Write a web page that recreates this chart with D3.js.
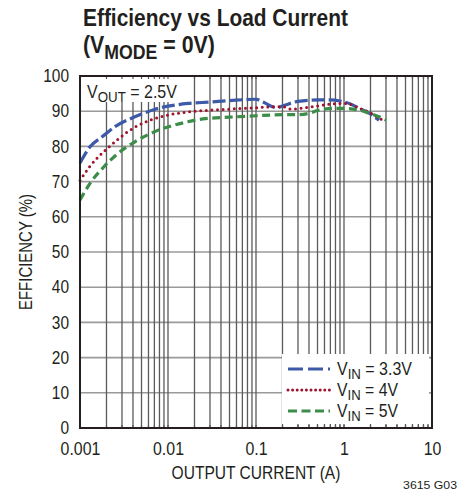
<!DOCTYPE html>
<html>
<head>
<meta charset="utf-8">
<script src="https://cdn.jsdelivr.net/npm/d3@7"></script>
<style>
  body { margin: 0; background: #fff; }
  text { font-family: "Liberation Sans", Arial, sans-serif; fill: #231f20; }
</style>
</head>
<body>
<div id="chart"></div>
<script>
const dimensions = { width: 466, height: 497 };
const margin = { top: 76, right: 34, bottom: 69, left: 80 };
const graphWidth = dimensions.width - margin.left - margin.right;
const graphHeight = dimensions.height - margin.top - margin.bottom;

// data
const blueCurrent = [0.001, 0.0013, 0.0018, 0.0025, 0.0042, 0.007, 0.017, 0.03, 0.05, 0.1, 0.12, 0.17, 0.2, 0.3, 0.5, 0.7, 0.9, 1.2, 1.5, 2, 2.5];
const blueEff = [75.3, 79.9, 82.8, 85.6, 88.4, 90.5, 92.2, 92.6, 93.0, 93.4, 92.6, 91.0, 91.5, 92.8, 93.2, 93.2, 92.9, 92.0, 90.8, 89.2, 87.4];

const redCurrent = [0.001, 0.0013, 0.002, 0.0027, 0.0035, 0.0059, 0.01, 0.017, 0.03, 0.05, 0.1, 0.2, 0.25, 0.32, 0.45, 0.7, 1.05, 1.5, 2, 2.5, 3];
const redEff = [70.3, 74.4, 79.2, 82.0, 84.2, 87.2, 88.9, 89.8, 90.3, 90.6, 91.0, 91.3, 90.6, 90.8, 91.3, 92.0, 92.2, 90.8, 89.5, 88.0, 87.0];

const greenCurrent = [0.001, 0.0013, 0.0019, 0.0027, 0.0042, 0.0071, 0.0168, 0.025, 0.05, 0.1, 0.2, 0.3, 0.4, 0.5, 0.8, 1.0, 1.5, 2, 2.5, 3];
const greenEff = [64.8, 69.5, 74.4, 78.0, 81.3, 84.2, 87.0, 87.8, 88.3, 88.7, 89.0, 89.0, 89.4, 90.2, 90.8, 90.8, 90.3, 89.3, 88.4, 87.5];

const yTicks = [0, 10, 20, 30, 40, 50, 60, 70, 80, 90, 100];
const xTickLabels = ['0.001', '0.01', '0.1', '1', '10'];

const series = [
    { name: '3.3V', current: blueCurrent, eff: blueEff, color: '#3d5aa8', dash: '13,4', cap: 'butt', width: 3.2, legendDash: '15,5', fit: 75 },
    { name: '4V', current: redCurrent, eff: redEff, color: '#a0122d', dash: '0,5.6', cap: 'round', width: 3, legendDash: '0,4.6', fit: 61 },
    { name: '5V', current: greenCurrent, eff: greenEff, color: '#3b8d48', dash: '8,4.5', cap: 'butt', width: 3.2, legendDash: '9,4.5', fit: 61 }
];

// narrow a text horizontally around its anchor point (condensed look)
const squeeze = (sel, k) => {
    sel.each(function() {
        const t = d3.select(this);
        const x0 = +t.attr('x') || 0;
        const y0 = +t.attr('y') || 0;
        t.attr('x', 0).attr('y', 0)
            .attr('transform', `translate(${x0},${y0}) scale(${k},1)`);
    });
};
const fitWidth = (sel, target) => {
    const w = sel.node().getComputedTextLength();
    squeeze(sel, target / w);
};

const svg = d3.select('#chart')
    .append('svg')
    .attr('width', dimensions.width)
    .attr('height', dimensions.height);

const graph = svg.append('g')
    .attr('transform', `translate(${margin.left}, ${margin.top})`);

// scales
const x = d3.scaleLog().domain([0.001, 10]).range([0, graphWidth]);
const y = d3.scaleLinear().domain([0, 100]).range([graphHeight, 0]);

// minor positions on the log axis
const xGrid = [];
for (let e = -3; e < 1; e++) {
    for (let m = 1; m <= 9; m++) xGrid.push(m * Math.pow(10, e));
}
xGrid.push(10);

// grid
graph.append('g').selectAll('line')
    .data(yTicks)
    .enter().append('line')
        .attr('x1', 0).attr('x2', graphWidth)
        .attr('y1', d => y(d)).attr('y2', d => y(d))
        .attr('stroke', '#9a9a9a').attr('stroke-width', 1.6);

graph.append('g').selectAll('line')
    .data(xGrid)
    .enter().append('line')
        .attr('x1', d => x(d)).attr('x2', d => x(d))
        .attr('y1', 0).attr('y2', graphHeight)
        .attr('stroke', '#5a5a5a').attr('stroke-width', 1.3);

// white boxes for label and legend
graph.append('rect')
    .attr('x', 1).attr('y', 1).attr('width', 96).attr('height', 25)
    .attr('fill', '#fff');
graph.append('rect')
    .attr('x', 202).attr('y', 278).attr('width', 147).attr('height', 70)
    .attr('fill', '#fff');

// small inside ticks along the frame
const tickLen = 3;
graph.append('g').selectAll('line')
    .data(xGrid)
    .enter().append('line')
        .attr('x1', d => x(d)).attr('x2', d => x(d))
        .attr('y1', graphHeight).attr('y2', graphHeight - tickLen)
        .attr('stroke', '#5a5a5a').attr('stroke-width', 1.2);
graph.append('g').selectAll('line')
    .data(xGrid)
    .enter().append('line')
        .attr('x1', d => x(d)).attr('x2', d => x(d))
        .attr('y1', 0).attr('y2', tickLen)
        .attr('stroke', '#5a5a5a').attr('stroke-width', 1.2);
graph.append('g').selectAll('line')
    .data(yTicks)
    .enter().append('line')
        .attr('x1', graphWidth).attr('x2', graphWidth - tickLen)
        .attr('y1', d => y(d)).attr('y2', d => y(d))
        .attr('stroke', '#9a9a9a').attr('stroke-width', 1.4);

// curves
const line = d3.line()
    .x(d => x(d[0]))
    .y(d => y(d[1]))
    .curve(d3.curveMonotoneX);

series.forEach(s => {
    graph.append('path')
        .datum(s.current.map((c, i) => [c, s.eff[i]]))
        .attr('d', line)
        .attr('fill', 'none')
        .attr('stroke', s.color)
        .attr('stroke-width', s.width)
        .attr('stroke-linecap', s.cap)
        .attr('stroke-dasharray', s.dash);
});

// frame
graph.append('rect')
    .attr('width', graphWidth).attr('height', graphHeight)
    .attr('fill', 'none').attr('stroke', '#231f20').attr('stroke-width', 2);

// axes labels via axis generators
const yAxis = d3.axisLeft(y).tickValues(yTicks).tickSize(0).tickPadding(11);
const yAxisGroup = graph.append('g').call(yAxis);
yAxisGroup.select('.domain').remove();
yAxisGroup.selectAll('text')
    .style('font-size', '18px')
    .style('font-family', '"Liberation Sans", Arial, sans-serif')
    .attr('fill', '#231f20')
    .call(squeeze, 0.86);

const xAxis = d3.axisBottom(x)
    .tickValues([0.001, 0.01, 0.1, 1, 10])
    .tickFormat((d, i) => xTickLabels[i])
    .tickSize(0).tickPadding(14);
const xAxisGroup = graph.append('g')
    .attr('transform', `translate(0, ${graphHeight})`)
    .call(xAxis);
xAxisGroup.select('.domain').remove();
xAxisGroup.selectAll('text')
    .style('font-size', '18.5px')
    .style('font-family', '"Liberation Sans", Arial, sans-serif')
    .attr('fill', '#231f20')
    .call(squeeze, 0.86);

// axis titles
svg.append('text')
    .attr('x', margin.left + graphWidth / 2)
    .attr('y', 479)
    .attr('text-anchor', 'middle')
    .style('font-size', '18.5px')
    .text('OUTPUT CURRENT (A)')
    .call(fitWidth, 169);

svg.append('text')
    .attr('transform', `translate(32, ${margin.top + graphHeight / 2}) rotate(-90)`)
    .attr('text-anchor', 'middle')
    .style('font-size', '18px')
    .attr('textLength', 116)
    .attr('lengthAdjust', 'spacingAndGlyphs')
    .text('EFFICIENCY (%)');

// title
const title = svg.append('text')
    .attr('x', 83).attr('y', 26)
    .style('font-size', '23.5px').style('font-weight', 'bold')
    .text('Efficiency vs Load Current')
    .call(fitWidth, 265);
const title2 = svg.append('text')
    .attr('x', 83).attr('y', 53)
    .style('font-size', '23.5px').style('font-weight', 'bold');
title2.append('tspan').text('(V');
title2.append('tspan').attr('dy', 6).style('font-size', '19.5px').text('MODE');
title2.append('tspan').attr('dy', -6).text(' = 0V)');
title2.call(fitWidth, 132);

// VOUT label
const vout = graph.append('text')
    .attr('x', 7).attr('y', 22)
    .style('font-size', '18px');
vout.append('tspan').text('V');
vout.append('tspan').attr('dy', 4).style('font-size', '15px').text('OUT');
vout.append('tspan').attr('dy', -4).text(' = 2.5V');
vout.call(fitWidth, 90);

// legend
const legend = graph.append('g')
    .attr('transform', `translate(208, 293)`);
series.forEach((s, i) => {
    const row = legend.append('g').attr('transform', `translate(0, ${i * 21})`);
    row.append('line')
        .attr('x1', 0).attr('x2', 42)
        .attr('y1', 0).attr('y2', 0)
        .attr('stroke', s.color)
        .attr('stroke-width', s.width)
        .attr('stroke-linecap', s.cap)
        .attr('stroke-dasharray', s.legendDash);
    const t = row.append('text')
        .attr('x', 49).attr('y', 6)
        .style('font-size', '18px');
    t.append('tspan').text('V');
    t.append('tspan').attr('dy', 4).style('font-size', '15px').text('IN');
    t.append('tspan').attr('dy', -4).text(` = ${s.name}`);
    t.call(fitWidth, s.fit);
});

// figure code
svg.append('text')
    .attr('x', 457).attr('y', 489)
    .attr('text-anchor', 'end')
    .style('font-size', '11.5px')
    .text('3615 G03')
    .call(fitWidth, 54);
</script>
</body>
</html>
